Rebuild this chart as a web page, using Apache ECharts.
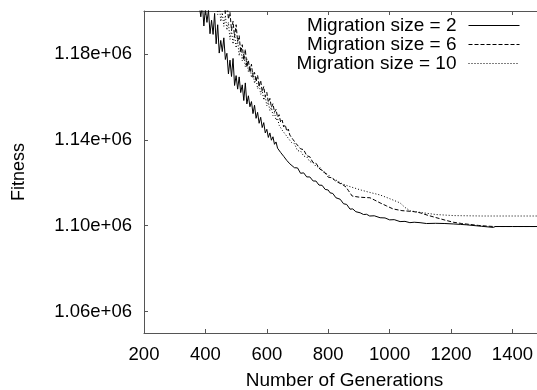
<!DOCTYPE html>
<html>
<head>
<meta charset="utf-8">
<script src="https://cdn.jsdelivr.net/npm/echarts@6/dist/echarts.min.js"></script>
<style>html,body{margin:0;padding:0;background:#fff;}#c{width:537px;height:390px;}</style>
</head>
<body>
<div id="c"></div>
<script>
var seriesNames = ['Migration size = 2', 'Migration size = 6', 'Migration size = 10'];
var xTickInterval = 200;
var yTickValues = [1060000, 1100000, 1140000, 1180000];
var yTickLabels = ['1.06e+06', '1.10e+06', '1.14e+06', '1.18e+06'];

var size2 = [[200,1280000],[250,1250000],[300,1225000],[350,1208000],
[380,1203000],[385,1197300],[390,1203700],[395,1193000],[400,1201400],[405,1194700],[410,1200600],[415,1189400],
[420,1195700],[425,1189100],[430,1198900],[435,1184700],[440,1193600],[445,1180400],[450,1186300],[455,1181100],
[460,1187500],[465,1177400],[470,1180300],[475,1170700],[480,1177100],[485,1169500],[490,1177900],[495,1165300],
[500,1169900],[505,1163600],[510,1169300],[515,1162000],[520,1165600],[525,1158300],[530,1166500],[535,1156700],
[540,1160500],[545,1155400],[550,1157800],[555,1152200],[560,1156100],[565,1150000],[570,1152800],[575,1147700],
[580,1150500],[585,1145700],[590,1148000],[595,1143200],[600,1144900],[605,1141100],[610,1143200],[615,1139800],
[620,1141400],[625,1137900],[630,1139000],[635,1136100],[640,1137000],[645,1134100],[650,1134900],[655,1132300],
[660,1133000],[665,1130400],[670,1130900],[675,1128800],[680,1129200],[690,1127000],[700,1126900],[710,1124400],
[720,1124600],[730,1122700],[740,1122700],[751,1120800],[760,1120800],[770,1118900],[780,1118800],[790,1116900],
[800,1116600],[806,1115300],[815,1115000],[825,1113000],[839,1112300],[850,1110200],[860,1109900],[871,1107700],
[880,1107800],[890,1106500],[904,1106000],[915,1105200],[925,1105300],[935,1104500],[950,1104600],[969,1103700],
[985,1103600],[1000,1102700],[1015,1102800],[1034,1101900],[1050,1102000],[1066,1101400],[1080,1101600],[1099,1101400],
[1120,1101000],[1150,1101100],[1180,1101000],[1207,1100800],[1230,1100600],[1250,1100400],[1256,1099800],[1300,1099700],
[1337,1099200],[1345,1099600],[1400,1099600],[1480,1099600]];

var size6 = [[200,1290000],[300,1250000],[400,1222000],[440,1209000],
[450,1209000],[455,1201000],[460,1205000],[465,1198500],[470,1204500],[475,1196200],[480,1199400],[485,1191000],
[490,1195200],[495,1187900],[500,1193600],[505,1185800],[510,1188500],[515,1180600],[520,1184300],[525,1177000],
[530,1182200],[535,1173900],[540,1177100],[545,1171400],[550,1175200],[555,1169100],[560,1171400],[565,1167200],
[570,1170100],[575,1164900],[580,1167700],[585,1162500],[590,1164800],[595,1160100],[600,1162100],[605,1157500],
[610,1159300],[615,1155100],[620,1156800],[625,1152900],[630,1154200],[635,1150500],[640,1151700],[645,1148200],
[650,1149200],[655,1146000],[660,1147000],[665,1144000],[670,1145000],[675,1142200],[680,1142900],[685,1140200],
[690,1140800],[695,1138300],[700,1138700],[710,1135800],[720,1135400],[730,1132600],[740,1132100],[750,1129500],
[760,1129100],[773,1126300],[785,1125500],[800,1122600],[812,1122300],[825,1120700],[848,1119000],[858,1118000],
[865,1116500],[878,1113800],[900,1113300],[920,1113100],[936,1113000],[950,1112000],[969,1110600],[990,1109200],
[1011,1107800],[1040,1107000],[1076,1106600],[1099,1106000],[1125,1104800],[1150,1103800],[1180,1102600],[1207,1101600],
[1235,1101000],[1260,1100600],[1290,1100100],[1317,1099800],[1340,1099600],[1480,1099600]];

var size10 = [[200,1290000],[300,1245000],[400,1215000],[420,1207000],
[425,1208600],[430,1201200],[435,1205300],[440,1198400],[445,1204000],[450,1195100],[455,1199200],[460,1192900],
[465,1198000],[470,1191100],[475,1194700],[480,1186800],[485,1191000],[490,1184600],[495,1189200],[500,1182800],
[505,1186400],[510,1179100],[515,1183200],[520,1176800],[525,1180400],[530,1174000],[535,1177700],[540,1171600],
[545,1174600],[550,1169000],[555,1171700],[560,1166300],[565,1168700],[570,1163800],[575,1166000],[580,1161200],
[585,1163000],[590,1158500],[595,1160200],[600,1155800],[605,1157500],[610,1153600],[615,1155000],[620,1151300],
[625,1152600],[630,1149100],[635,1150100],[640,1146800],[645,1147700],[650,1144500],[655,1145400],[660,1142600],
[665,1143300],[670,1140700],[675,1141300],[680,1138800],[690,1138200],[700,1134900],[710,1134800],[720,1132400],
[730,1132100],[740,1129800],[750,1129500],[760,1127600],[773,1127200],[785,1124800],[800,1123800],[812,1121900],
[825,1121300],[848,1119300],[875,1118000],[904,1116700],[935,1115500],[969,1114300],[1000,1112600],[1034,1110600],
[1050,1108500],[1067,1106900],[1099,1106200],[1150,1105200],[1207,1104700],[1300,1104500],[1480,1104500]];

var FONT = '"Liberation Sans", Arial, Helvetica, sans-serif';
var axisColor = '#555';

var chart = echarts.init(document.getElementById('c'), null, {renderer: 'canvas'});
function labelFor(v) {
  var i = yTickValues.indexOf(v);
  return i >= 0 ? yTickLabels[i] : '';
}
var styles = [
  {type: 'solid'},
  {type: [4, 2]},
  {type: [1, 2]}
];
var allData = [size2, size6, size10];
chart.setOption({
  animation: false,
  backgroundColor: '#fff',
  grid: {left: 144, top: 11, right: 0, bottom: 57, containLabel: false, outerBoundsMode: 'none'},
  legend: {
    orient: 'vertical', align: 'right', right: 17, top: 16, padding: 0,
    itemWidth: 51, itemHeight: 19, itemGap: 0, selectedMode: false,
    itemStyle: {color: 'rgba(0,0,0,0)', borderColor: 'rgba(0,0,0,0)', borderWidth: 0, opacity: 0},
    lineStyle: {width: 1},
    textStyle: {fontFamily: FONT, fontSize: 19, color: '#000', lineHeight: 19, padding: [0, 7, 0, 0]},
    data: seriesNames
  },
  xAxis: [{
    type: 'value', min: 200, max: 1480, interval: xTickInterval,
    position: 'bottom',
    name: 'Number of Generations', nameLocation: 'middle', nameGap: 38,
    nameTextStyle: {fontFamily: FONT, fontSize: 19, color: '#000', padding: [0, 0, 0, 8]},
    axisLine: {lineStyle: {color: axisColor, width: 1}},
    axisTick: {inside: true, length: 4, lineStyle: {color: axisColor}},
    axisLabel: {fontFamily: FONT, fontSize: 18.5, color: '#000', margin: 12, showMaxLabel: false,
      formatter: function (v) { return String(v); }},
    splitLine: {show: false}
  }, {
    type: 'value', min: 200, max: 1480, interval: xTickInterval,
    position: 'top',
    axisLine: {lineStyle: {color: axisColor, width: 1}},
    axisTick: {inside: true, length: 4, lineStyle: {color: axisColor}},
    axisLabel: {show: false},
    splitLine: {show: false}
  }],
  yAxis: {
    type: 'value', min: 1050000, max: 1200000,
    name: 'Fitness', nameLocation: 'middle', nameGap: 116, nameRotate: 90,
    nameTextStyle: {fontFamily: FONT, fontSize: 18, color: '#000'},
    axisLine: {lineStyle: {color: axisColor, width: 1}},
    axisTick: {inside: true, length: 4, lineStyle: {color: axisColor}, customValues: yTickValues},
    axisLabel: {fontFamily: FONT, fontSize: 18.5, color: '#000', margin: 12,
      customValues: yTickValues, formatter: function (v) { return labelFor(v); }},
    splitLine: {show: false}
  },
  series: allData.map(function (d, i) {
    return {
      name: seriesNames[i], type: 'line', data: d, xAxisIndex: 0,
      symbol: 'none', showSymbol: false, clip: true,
      lineStyle: {color: '#000', width: 1, type: styles[i].type},
      itemStyle: {color: '#000'}
    };
  })
});
</script>
</body>
</html>
